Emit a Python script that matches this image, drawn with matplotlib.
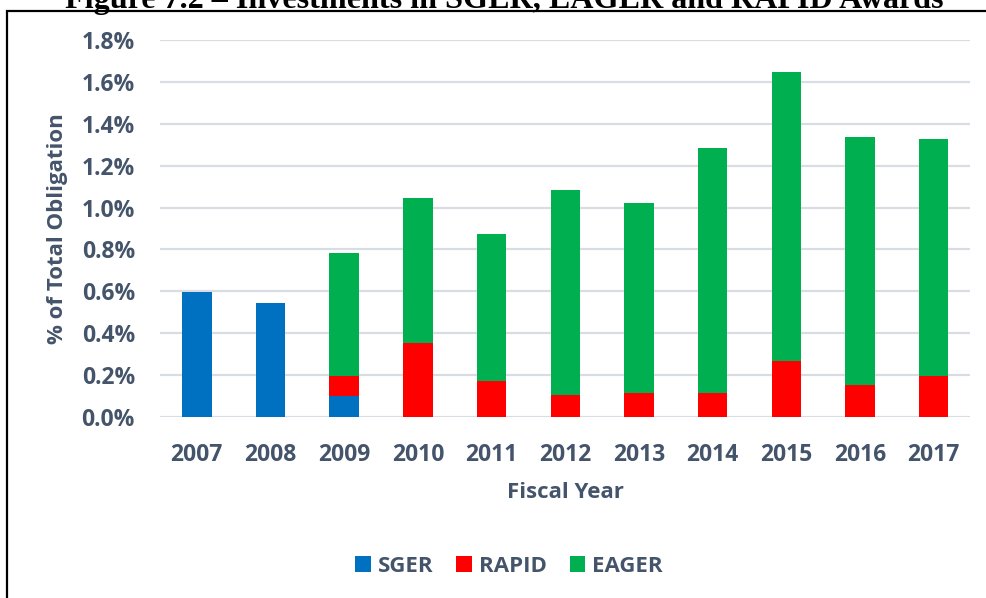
import matplotlib
matplotlib.use("Agg")
import matplotlib.pyplot as plt
from matplotlib.patches import Patch, Rectangle
from matplotlib.ticker import FuncFormatter
import numpy as np

years = ["2007", "2008", "2009", "2010", "2011", "2012", "2013", "2014", "2015", "2016", "2017"]
sger = [0.595, 0.546, 0.102, 0, 0, 0, 0, 0, 0, 0, 0]
rapid = [0, 0, 0.095, 0.353, 0.172, 0.105, 0.115, 0.113, 0.267, 0.153, 0.197]
eager = [0, 0, 0.587, 0.694, 0.703, 0.977, 0.908, 1.172, 1.380, 1.185, 1.128]
series_names = ["SGER", "RAPID", "EAGER"]
colors = ["#0070C0", "#FF0000", "#00B050"]

TXT = "#44546A"
FONT = ["Open Sans", "DejaVu Sans"]
plt.rcParams["font.family"] = FONT
plt.rcParams["font.weight"] = "bold"

W, H = 987, 598
fig = plt.figure(figsize=(W / 100, H / 100), dpi=100)
fig.patch.set_facecolor("white")

ax = fig.add_axes([160 / W, 1 - 417 / H, (970.5 - 160) / W, (417 - 40) / H])
x = np.arange(len(years))
bw = 0.4
bottom = np.zeros(len(years))
for vals, c in zip([sger, rapid, eager], colors):
    v = np.array(vals)
    ax.bar(x, v, bw, bottom=bottom, color=c, edgecolor="none", zorder=3)
    bottom += v

ax.set_xlim(-0.5, len(years) - 0.5)
ax.set_ylim(0, 1.8)
ax.set_yticks(np.arange(0, 1.81, 0.2))
ax.yaxis.set_major_formatter(FuncFormatter(lambda v, p: f"{v:.1f}%"))
ax.set_xticks(x)
ax.set_xticklabels(years)
ax.grid(axis="y", color="#D9DDE3", linewidth=1.6, zorder=0)
ax.set_axisbelow(True)
for s in ax.spines.values():
    s.set_visible(False)
ax.tick_params(axis="both", length=0, labelsize=16.5, labelcolor=TXT)
ax.tick_params(axis="y", pad=18)
ax.tick_params(axis="x", pad=18.5)
for lbl in ax.get_xticklabels() + ax.get_yticklabels():
    lbl.set_fontweight("bold")

fig.text(565 / W, 1 - 493 / H, "Fiscal Year", ha="center", va="center",
         fontsize=16, fontweight="bold", color=TXT)
fig.text(58 / W, 1 - 229 / H, "% of Total Obligation", ha="center", va="center",
         rotation=90, fontsize=16, fontweight="bold", color=TXT)

handles = [Patch(facecolor=c, edgecolor="none") for c in colors]
fig.legend(handles, series_names, loc="center", bbox_to_anchor=(509 / W, 1 - 566 / H),
           ncol=3, frameon=False, fontsize=16, handlelength=0.7, handleheight=0.7,
           handletextpad=0.3, columnspacing=1.05, labelcolor=TXT,
           prop={"weight": "bold", "size": 16, "family": FONT})

# border box
fig.patches.append(Rectangle((7 / W, -0.1), 1.2, 1 - 10.7 / H + 0.1, transform=fig.transFigure,
                             fill=False, edgecolor="black", linewidth=1.6))

title = fig.text(504 / W, 1 - 8 / H, "Figure 7.2 \u2013 Investments in SGER, EAGER and RAPID Awards",
                 ha="center", va="baseline", fontsize=22, fontweight="bold",
                 family=["Liberation Serif", "DejaVu Serif"], color="black")
fig.canvas.draw()
wpx = title.get_window_extent().width
title.set_fontsize(22 * 878 / wpx)

fig.savefig("out.png", dpi=100, facecolor="white")
